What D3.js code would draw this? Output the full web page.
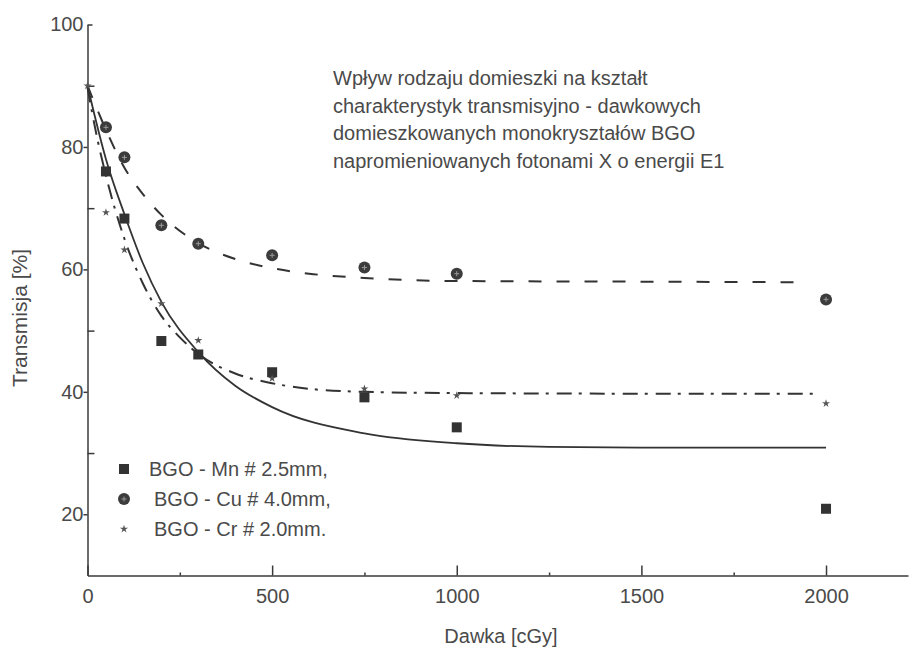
<!DOCTYPE html>
<html>
<head>
<meta charset="utf-8">
<script src="https://cdn.jsdelivr.net/npm/d3@7"></script>
<style>
  body { margin: 0; background: #fff; }
  svg { display: block; font-family: "Liberation Sans", Arial, sans-serif; }
  .axis path, .axis line { stroke: #3a3a3a; stroke-width: 1.5; }
  .axis text { fill: #4a4a4a; font-size: 20px; font-family: "Liberation Sans", Arial, sans-serif; }
</style>
</head>
<body>
<div id="chart"></div>
<script>
// measured points
const doses = [0, 50, 100, 200, 300, 500, 750, 1000, 2000];
const mn = [null, 76, 68.3, 48.3, 46.1, 43.2, 39.1, 34.2, 20.9];
const cu = [null, 83.2, 78.3, 67.2, 64.2, 62.3, 60.3, 59.3, 55.1];
const cr = [90, 69.3, 63.2, 54.4, 48.4, 42.2, 40.5, 39.4, 38.1];

// fitted curves
const mnFitX = [0, 50, 100, 150, 200, 300, 400, 500, 750, 1000, 1250, 1500, 2000];
const mnFitY = [90, 78, 69, 61, 54.7, 46.5, 41, 37.5, 33.2, 31.6, 31, 30.9, 30.9];
const cuFitX = [0, 50, 100, 150, 200, 300, 400, 500, 600, 750, 1000, 1500, 1925];
const cuFitY = [90, 82.8, 76.6, 72.3, 68.9, 64.3, 61.7, 60.2, 59.3, 58.6, 58.1, 58, 57.9];
const crFitX = [0, 25, 50, 100, 150, 200, 250, 300, 400, 500, 600, 750, 1000, 1500, 1965];
const crFitY = [89.7, 81.8, 75.3, 65, 57.7, 52.4, 48.9, 46.2, 43, 41.4, 40.5, 40, 39.8, 39.7, 39.7];

const seriesNames = ["BGO - Mn # 2.5mm,", "BGO - Cu # 4.0mm,", "BGO - Cr # 2.0mm."];
const titleLines = [
  "Wpływ rodzaju domieszki na kształt",
  "charakterystyk transmisyjno - dawkowych",
  "domieszkowanych monokryształów BGO",
  "napromieniowanych fotonami X o energii E1"
];
const xMajor = [0, 500, 1000, 1500, 2000];
const xMinor = [250, 750, 1250, 1750];
const yMajor = [20, 40, 60, 80, 100];
const yMinor = [30, 50, 70, 90];

const width = 912, height = 649;
const ink = "#333";

const svg = d3.select("#chart").append("svg")
  .attr("width", width)
  .attr("height", height);

svg.append("rect").attr("width", width).attr("height", height).attr("fill", "#fff");

const x = d3.scaleLinear().domain([0, 2222]).range([87.5, 908]);
const y = d3.scaleLinear().domain([10, 100]).range([575.5, 24.5]);

// x axis
svg.append("g").attr("class", "axis")
  .attr("transform", `translate(0,${y(10)})`)
  .call(d3.axisBottom(x).tickValues(xMajor).tickFormat(d3.format("d"))
    .tickSizeInner(-10).tickSizeOuter(0).tickPadding(13));
svg.append("g").attr("class", "axis")
  .attr("transform", `translate(0,${y(10)})`)
  .call(d3.axisBottom(x).tickValues(xMinor).tickSizeInner(-3).tickSizeOuter(0).tickFormat(""))
  .select(".domain").remove();

// y axis
const gy = svg.append("g").attr("class", "axis")
  .attr("transform", `translate(${x(0)},0)`)
  .call(d3.axisLeft(y).tickValues(yMajor).tickFormat(d3.format("d"))
    .tickSizeInner(4).tickSizeOuter(0).tickPadding(0));
gy.selectAll(".tick").filter(d => d === 100).select("line").attr("x2", 5);
svg.append("g").attr("class", "axis")
  .attr("transform", `translate(${x(0)},0)`)
  .call(d3.axisLeft(y).tickValues(yMinor).tickSizeInner(-7).tickSizeOuter(0).tickFormat(""))
  .select(".domain").remove();

// axis titles
svg.append("text")
  .attr("x", 501).attr("y", 643)
  .attr("text-anchor", "middle")
  .attr("fill", "#4a4a4a").attr("font-size", 20)
  .text("Dawka [cGy]");
svg.append("text")
  .attr("transform", "translate(27,318) rotate(-90)")
  .attr("text-anchor", "middle")
  .attr("fill", "#4a4a4a").attr("font-size", 21)
  .text("Transmisja [%]");

// title block
svg.append("g").selectAll("text")
  .data(titleLines)
  .join("text")
  .attr("x", 333)
  .attr("y", (d, i) => 85 + i * 27.5)
  .attr("fill", "#4a4a4a").attr("font-size", 20)
  .text(d => d);

// fitted curves
const line = d3.line()
  .x(d => x(d[0]))
  .y(d => y(d[1]))
  .curve(d3.curveMonotoneX);

svg.append("path")
  .datum(d3.zip(mnFitX, mnFitY))
  .attr("d", line)
  .attr("fill", "none").attr("stroke", ink).attr("stroke-width", 1.8);
svg.append("path")
  .datum(d3.zip(cuFitX, cuFitY))
  .attr("d", line)
  .attr("fill", "none").attr("stroke", ink).attr("stroke-width", 2)
  .attr("stroke-dasharray", "13,15");
svg.append("path")
  .datum(d3.zip(crFitX, crFitY))
  .attr("d", line)
  .attr("fill", "none").attr("stroke", ink).attr("stroke-width", 2)
  .attr("stroke-dasharray", "15,7,3,8");

// markers
function drawSquare(g, cx, cy) {
  g.append("rect")
    .attr("x", cx - 5).attr("y", cy - 5)
    .attr("width", 10).attr("height", 10)
    .attr("fill", "#333");
}
function drawCircle(g, cx, cy) {
  g.append("circle").attr("cx", cx).attr("cy", cy).attr("r", 6).attr("fill", "#3c3c3c");
  g.append("path")
    .attr("d", `M${cx - 2.5},${cy}H${cx + 2.5}M${cx},${cy - 2.5}V${cy + 2.5}`)
    .attr("stroke", "#9a9a9a").attr("stroke-width", 1);
}
const star = d3.symbol(d3.symbolStar, 20);
function drawStar(g, cx, cy) {
  g.append("path")
    .attr("transform", `translate(${cx},${cy})`)
    .attr("d", star)
    .attr("fill", "#555");
}

const pts = svg.append("g");
doses.forEach((dose, i) => {
  if (mn[i] != null) drawSquare(pts, x(dose), y(mn[i]));
  if (cu[i] != null) drawCircle(pts, x(dose), y(cu[i]));
  if (cr[i] != null) drawStar(pts, x(dose), y(cr[i]));
});

// legend
const legend = svg.append("g");
const legendMarks = [drawSquare, drawCircle, drawStar];
const legendTextX = [149, 154, 154];
seriesNames.forEach((name, i) => {
  legendMarks[i](legend, 124, 469 + i * 30);
  legend.append("text")
    .attr("x", legendTextX[i]).attr("y", 476 + i * 30)
    .attr("fill", "#4a4a4a").attr("font-size", 20)
    .text(name);
});
</script>
</body>
</html>
